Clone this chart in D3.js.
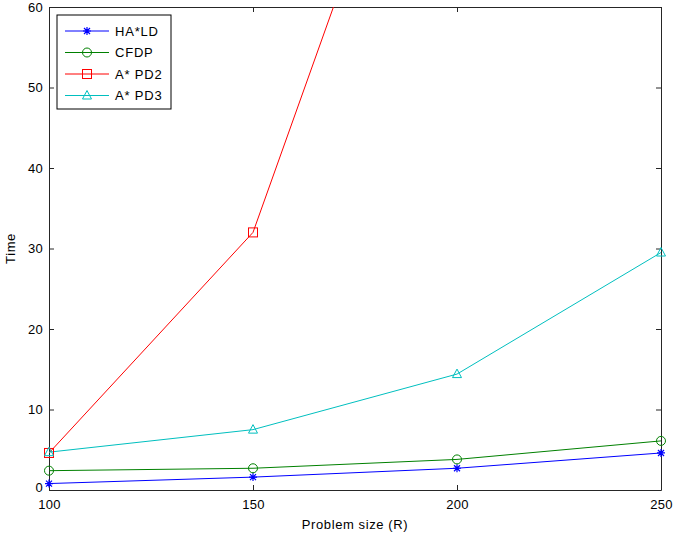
<!DOCTYPE html>
<html>
<head>
<meta charset="utf-8">
<script src="https://cdn.jsdelivr.net/npm/d3@7"></script>
<style>
  body { margin: 0; background: #fff; }
  text { font-family: "Liberation Sans", Arial, sans-serif; }
</style>
</head>
<body>
<div id="chart"></div>
<script>
// problem sizes on the x axis
var sizes = [100, 150, 200, 250];
// run times per method
var haldTimes = [0.8, 1.6, 2.7, 4.6];
var cfdpTimes = [2.4, 2.7, 3.8, 6.1];
var pd2Times = [4.6, 32, 103, 200];
var pd3Times = [4.7, 7.5, 14.4, 29.5];
var xTicks = [100, 150, 200, 250];
var yTicks = [0, 10, 20, 30, 40, 50, 60];

var series = [
  {name: "HA*LD", values: haldTimes, color: "#0000ff", marker: "star"},
  {name: "CFDP", values: cfdpTimes, color: "#008000", marker: "circle"},
  {name: "A* PD2", values: pd2Times, color: "#ff0000", marker: "square"},
  {name: "A* PD3", values: pd3Times, color: "#00bfbf", marker: "triangle"}
];

var W = 675, H = 534;
var margin = {left: 49, top: 7, right: 14, bottom: 44};
var iw = W - margin.left - margin.right, ih = H - margin.top - margin.bottom;

var svg = d3.select("#chart").append("svg").attr("width", W).attr("height", H);
var g = svg.append("g").attr("transform", "translate(" + margin.left + "," + margin.top + ")");

var x = d3.scaleLinear().domain([100, 250]).range([0, iw]);
var y = d3.scaleLinear().domain([0, 60]).range([ih, 0]);

svg.append("clipPath").attr("id", "clip").append("rect").attr("width", iw).attr("height", ih);

// axes, ticks pointing inward
var axisColor = "#262626";
function styleAxis(sel) {
  sel.selectAll("path").attr("stroke", axisColor);
  sel.selectAll("line").attr("stroke", axisColor);
  sel.selectAll("text").attr("fill", "#000").style("font-size", "13px").style("letter-spacing", "0.3px");
}
g.append("g").attr("transform", "translate(0," + ih + ")")
  .call(d3.axisBottom(x).tickValues(xTicks).tickSize(-5).tickSizeOuter(0).tickPadding(10))
  .call(styleAxis);
var yAxis = g.append("g")
  .call(d3.axisLeft(y).tickValues(yTicks).tickSize(-5).tickSizeOuter(0).tickPadding(6))
  .call(styleAxis);
// lift the "0" a little so it clears the "100" below it
yAxis.selectAll(".tick text").filter(function (d) { return d === 0; }).attr("dy", "0.1em");
g.append("g")
  .call(d3.axisTop(x).tickValues(xTicks).tickSize(-5).tickSizeOuter(0).tickFormat(""))
  .call(styleAxis);
g.append("g").attr("transform", "translate(" + iw + ",0)")
  .call(d3.axisRight(y).tickValues(yTicks).tickSize(-5).tickSizeOuter(0).tickFormat(""))
  .call(styleAxis);
g.selectAll(".domain").attr("stroke-width", 1);

// axis labels
svg.append("text").attr("x", margin.left + iw / 2).attr("y", 529)
  .attr("text-anchor", "middle").style("font-size", "13px").style("letter-spacing", "0.6px")
  .text("Problem size (R)");
svg.append("text").attr("transform", "translate(15," + (margin.top + ih / 2) + ") rotate(-90)")
  .attr("text-anchor", "middle").style("font-size", "13px").style("letter-spacing", "0.6px").text("Time");

function drawMarker(sel, type, color) {
  if (type === "circle") {
    sel.append("circle").attr("r", 4.5).attr("fill", "none").attr("stroke", color);
  } else if (type === "square") {
    sel.append("rect").attr("x", -4.5).attr("y", -4.5).attr("width", 9).attr("height", 9)
      .attr("fill", "none").attr("stroke", color);
  } else if (type === "triangle") {
    sel.append("path").attr("d", "M0,-5L4.5,3.5L-4.5,3.5Z").attr("fill", "none").attr("stroke", color);
  } else {
    sel.append("path").attr("d", "M-4,0L4,0M0,-4L0,4M-3,-3L3,3M-3,3L3,-3")
      .attr("stroke", color).attr("stroke-width", 1.2);
  }
}

var line = d3.line().x(function (d, i) { return x(sizes[i]); }).y(function (d) { return y(d); });
var plot = g.append("g").attr("clip-path", "url(#clip)");

series.forEach(function (s) {
  plot.append("path").datum(s.values).attr("d", line)
    .attr("fill", "none").attr("stroke", s.color).attr("stroke-width", 1);
  g.selectAll(null).data(s.values.filter(function (v) { return v <= 60; })).enter().append("g")
    .attr("transform", function (d, i) { return "translate(" + x(sizes[i]) + "," + y(d) + ")"; })
    .each(function () { drawMarker(d3.select(this), s.marker, s.color); });
});

// legend
var lg = svg.append("g").attr("transform", "translate(57,15)");
lg.append("rect").attr("width", 114).attr("height", 94).attr("fill", "#fff").attr("stroke", "#000");
series.forEach(function (s, i) {
  var row = lg.append("g").attr("transform", "translate(0," + (16 + i * 21.5) + ")");
  row.append("line").attr("x1", 8).attr("x2", 52).attr("stroke", s.color);
  drawMarker(row.append("g").attr("transform", "translate(30,0)"), s.marker, s.color);
  row.append("text").attr("x", 58).attr("dy", "0.35em").style("font-size", "13px")
    .style("letter-spacing", "0.8px").text(s.name);
});
</script>
</body>
</html>
